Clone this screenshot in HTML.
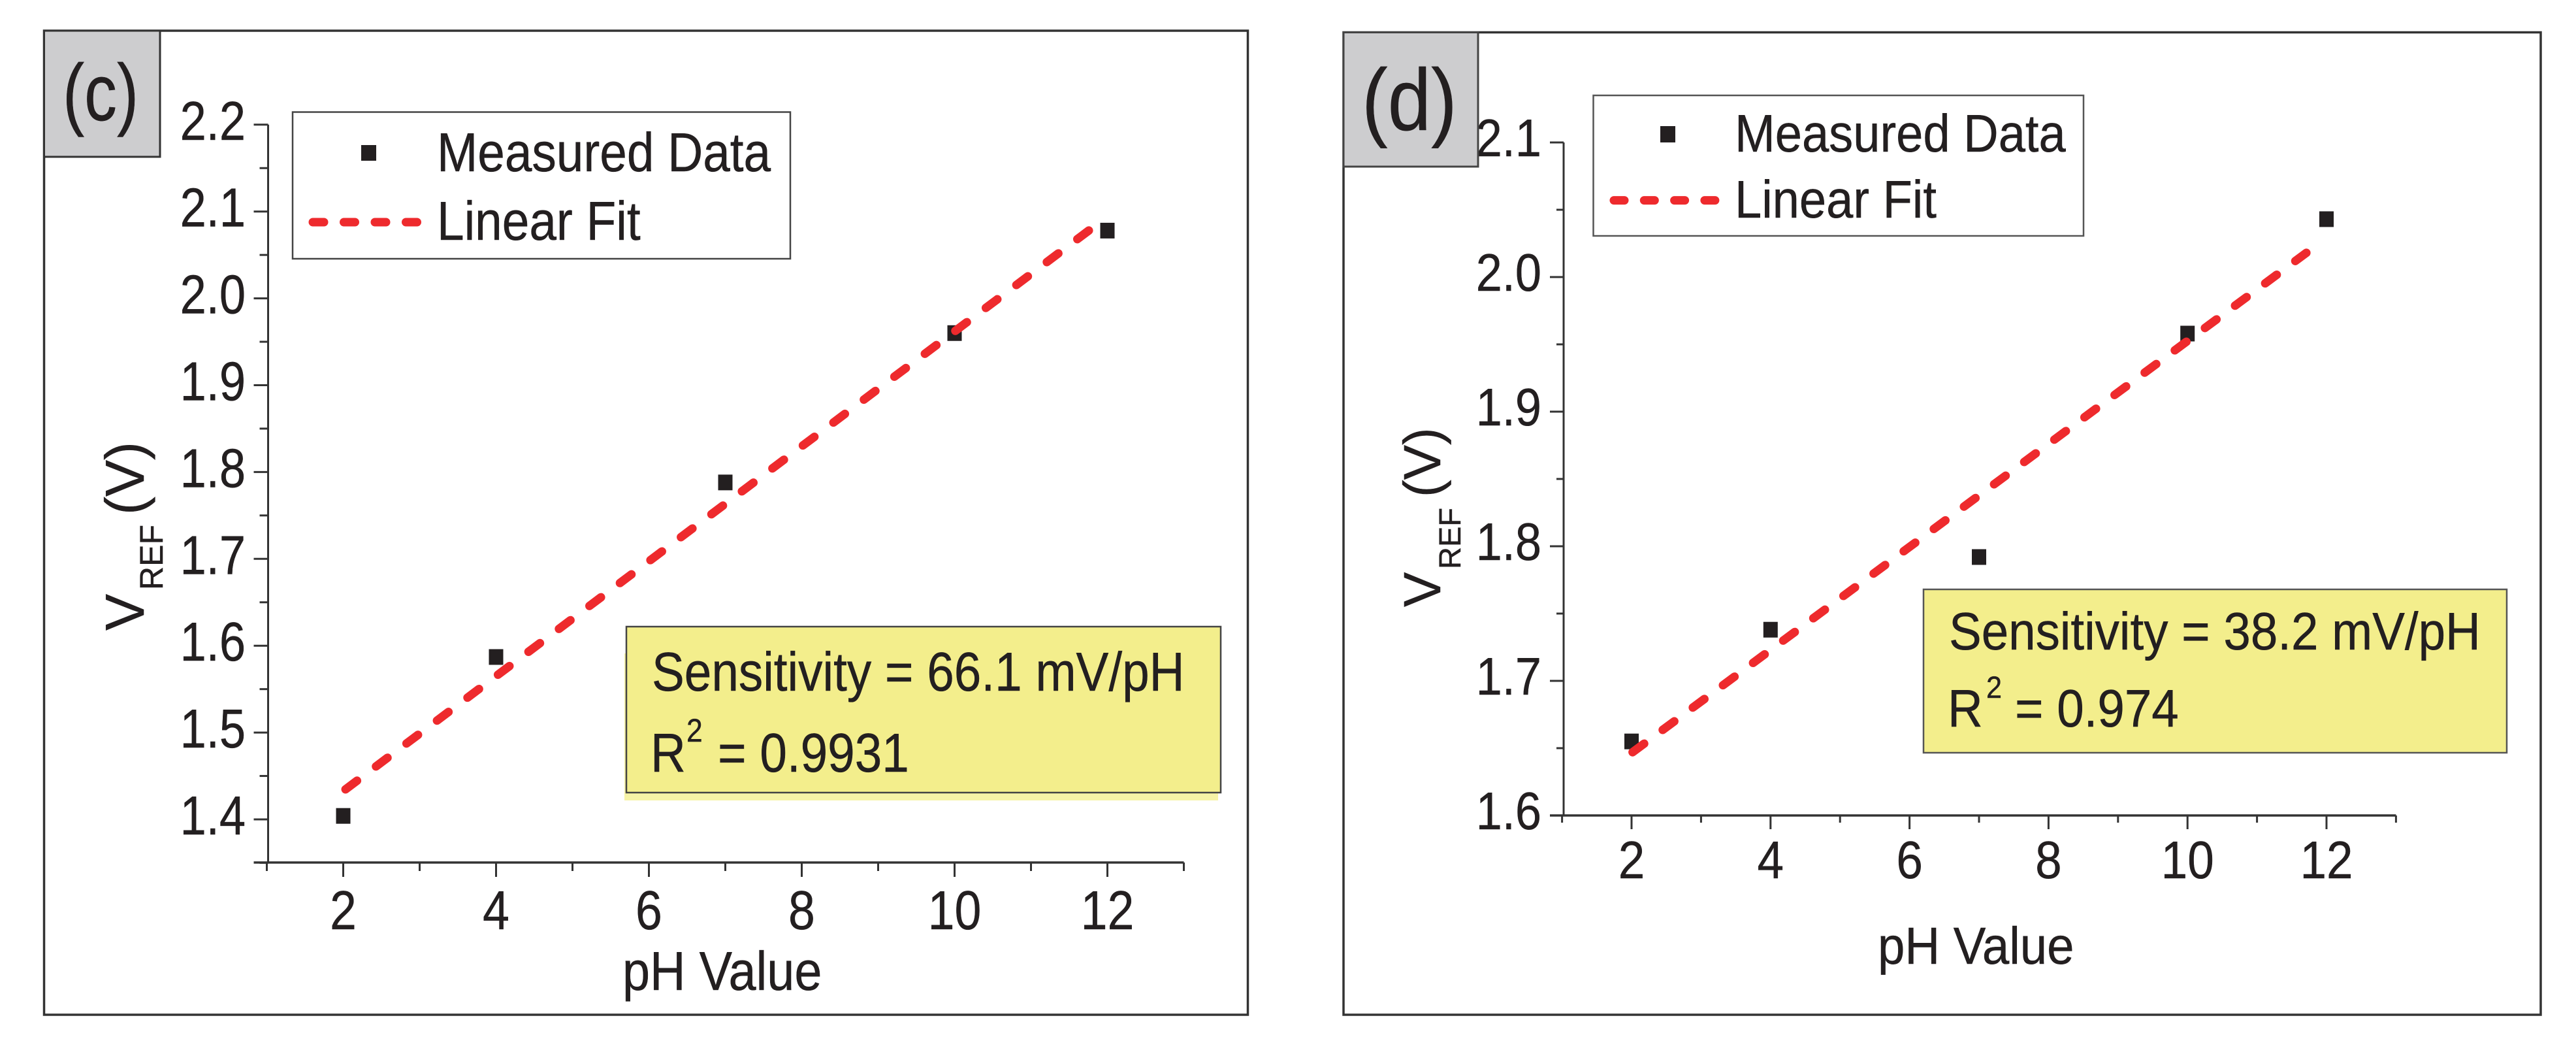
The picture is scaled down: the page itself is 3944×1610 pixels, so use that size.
<!DOCTYPE html>
<html lang="en">
<head>
<meta charset="utf-8">
<title>VREF versus pH value, panels c and d</title>
<style>
  html, body { margin: 0; padding: 0; background: #ffffff; }
  svg { display: block; }
  text { font-family: "Liberation Sans", Arial, sans-serif; fill: #231f20; text-rendering: geometricPrecision; stroke: #231f20; stroke-width: 0.5px; }
</style>
</head>
<body>
<svg id="figure" xmlns="http://www.w3.org/2000/svg" width="3944" height="1610" viewBox="0 0 3944 1610">
  <rect x="0" y="0" width="3944" height="1610" fill="#ffffff"/>

  <!-- Panel C -->
  <g id="panel-c">
    <rect x="67.5" y="47" width="1843" height="1506" fill="#ffffff" stroke="#333333" stroke-width="3.5"/>
    <g id="plot-c"></g>
    <g>
      <text transform="translate(220,965) rotate(-90)" font-size="84">V</text>
      <text transform="translate(249,903) rotate(-90)" font-size="50">REF</text>
      <text transform="translate(220,788) rotate(-90)" font-size="84">(V)</text>
    </g>
    <text transform="translate(953,1515) scale(0.9,1)" font-size="84">pH Value</text>
    <rect x="67.5" y="47" width="177.5" height="193" fill="#cdcdcf" stroke="#333333" stroke-width="3"/>
    <text transform="translate(96,184) scale(0.81,1)" font-size="123">(c)</text>
    <g>
      <rect x="448" y="171.5" width="762" height="224.5" fill="#ffffff" stroke="#444444" stroke-width="2.5"/>
      <rect x="553" y="222" width="23" height="24" fill="#231f20"/>
      <text transform="translate(669,262) scale(0.89,1)" font-size="84">Measured Data</text>
      <line x1="479" y1="340" x2="640" y2="340" stroke="#ee2a2d" stroke-width="13" stroke-linecap="round" stroke-dasharray="17 30.5"/>
      <text transform="translate(669,367) scale(0.89,1)" font-size="84">Linear Fit</text>
    </g>
    <g>
      <rect x="956" y="1000" width="909" height="225" fill="#f6f3a6"/>
      <rect x="959" y="959" width="910" height="254" fill="#f3ee8c" stroke="#444444" stroke-width="2.5"/>
      <text transform="translate(998,1057) scale(0.889,1)" font-size="84">Sensitivity = 66.1 mV/pH</text>
      <text transform="translate(996,1181) scale(0.889,1)" font-size="84">R</text>
      <text transform="translate(1051,1135) scale(0.889,1)" font-size="50">2</text>
      <text transform="translate(1099,1181) scale(0.889,1)" font-size="84">= 0.9931</text>
    </g>
  </g>

  <!-- Panel D -->
  <g id="panel-d">
    <rect x="2057" y="49.5" width="1833" height="1503.5" fill="#ffffff" stroke="#333333" stroke-width="3.5"/>
    <g id="plot-d"></g>
    <g>
      <text transform="translate(2205,929) rotate(-90)" font-size="80">V</text>
      <text transform="translate(2236,871) rotate(-90)" font-size="47">REF</text>
      <text transform="translate(2205,761) rotate(-90)" font-size="80">(V)</text>
    </g>
    <text transform="translate(2875,1475) scale(0.93,1)" font-size="80">pH Value</text>
    <rect x="2057" y="49.5" width="206" height="205.5" fill="#cdcdcf" stroke="#444444" stroke-width="3"/>
    <text transform="translate(2085,199) scale(0.89,1)" font-size="134">(d)</text>
    <g>
      <rect x="2439.5" y="146" width="750.5" height="215" fill="#ffffff" stroke="#555555" stroke-width="2.5"/>
      <rect x="2542" y="193" width="23" height="25" fill="#231f20"/>
      <text transform="translate(2656,232) scale(0.915,1)" font-size="81">Measured Data</text>
      <line x1="2471" y1="306.6" x2="2626" y2="306.6" stroke="#ee2a2d" stroke-width="13" stroke-linecap="round" stroke-dasharray="16 30.3"/>
      <text transform="translate(2656,333) scale(0.915,1)" font-size="81">Linear Fit</text>
    </g>
    <g>
      <rect x="2945" y="902" width="893" height="250" fill="#f3ee8c" stroke="#555555" stroke-width="2.5"/>
      <text transform="translate(2984,994) scale(0.92,1)" font-size="81">Sensitivity = 38.2 mV/pH</text>
      <text transform="translate(2982,1112) scale(0.92,1)" font-size="81">R</text>
      <text transform="translate(3041,1068) scale(0.92,1)" font-size="47">2</text>
      <text transform="translate(3085,1112) scale(0.92,1)" font-size="81">= 0.974</text>
    </g>
  </g>
</svg>

<script>
const phValues = [2, 4, 7, 10, 12];
const measuredC = [1.404, 1.587, 1.788, 1.960, 2.078];
const measuredD = [1.655, 1.738, 1.792, 1.958, 2.043];

const fitPhC = [2.03, 11.77];
const fitVrefC = [1.4346, 2.079];
const fitPhD = [2.015, 11.71];
const fitVrefD = [1.647, 2.018];

const xMajorTicks = [2, 4, 6, 8, 10, 12];
const xMinorTicks = [1, 3, 5, 7, 9, 11, 13];
const xTickLabels = ['2', '4', '6', '8', '10', '12'];

const yMajorTicksC = [1.4, 1.5, 1.6, 1.7, 1.8, 1.9, 2.0, 2.1, 2.2];
const yMinorTicksC = [1.35, 1.45, 1.55, 1.65, 1.75, 1.85, 1.95, 2.05, 2.15];
const yTickLabelsC = ['1.4', '1.5', '1.6', '1.7', '1.8', '1.9', '2.0', '2.1', '2.2'];

const yMajorTicksD = [1.6, 1.7, 1.8, 1.9, 2.0, 2.1];
const yMinorTicksD = [1.65, 1.75, 1.85, 1.95, 2.05];
const yTickLabelsD = ['1.6', '1.7', '1.8', '1.9', '2.0', '2.1'];

const SVG_NS = 'http://www.w3.org/2000/svg';

function make(parent, tag, attrs, content) {
  const el = document.createElementNS(SVG_NS, tag);
  Object.keys(attrs).forEach(function (k) { el.setAttribute(k, attrs[k]); });
  if (content !== undefined) el.textContent = content;
  parent.appendChild(el);
  return el;
}

function drawPanel(o) {
  const root = document.getElementById(o.rootId);
  const x = function (v) { return o.x0 + o.xUnit * (v - o.xRef); };
  const y = function (v) { return o.y0 - o.yUnit * (v - o.yRef); };
  const axisColor = '#333333';

  const yTop = Math.max.apply(null, o.yMajor);
  const yAxis = make(root, 'line', { x1: o.axisX, y1: y(yTop), x2: o.axisX, y2: o.axisY, stroke: axisColor, 'stroke-width': 3 });
  
  

  const xAxis = make(root, 'line', { x1: o.axisX - o.majorLen, y1: o.axisY, x2: x(13), y2: o.axisY, stroke: axisColor, 'stroke-width': 3.5 });
  
  

  o.yMajor.forEach(function (v, i) {
    const t = make(root, 'line', { x1: o.axisX - o.majorLen, y1: y(v), x2: o.axisX, y2: y(v), stroke: axisColor, 'stroke-width': 3 });
    
    
    const label = make(root, 'text', {
      transform: 'translate(' + o.yLabelX + ',' + (y(v) + o.yLabelDy) + ') scale(' + o.squeezeY + ',1)',
      'font-size': o.fontSize, 'text-anchor': 'end'
    }, o.yLabels[i]);
    
    
  });

  o.yMinor.forEach(function (v) {
    const t = make(root, 'line', { x1: o.axisX - o.minorLen, y1: y(v), x2: o.axisX, y2: y(v), stroke: axisColor, 'stroke-width': 3 });
    
    
  });

  xMajorTicks.forEach(function (v, i) {
    const t = make(root, 'line', { x1: x(v), y1: o.axisY, x2: x(v), y2: o.axisY + o.majorLen, stroke: axisColor, 'stroke-width': 3 });
    
    
    const label = make(root, 'text', {
      transform: 'translate(' + x(v) + ',' + o.xLabelY + ') scale(' + o.squeezeX + ',1)',
      'font-size': o.fontSize, 'text-anchor': 'middle'
    }, xTickLabels[i]);
    
    
  });

  xMinorTicks.forEach(function (v) {
    const t = make(root, 'line', { x1: x(v), y1: o.axisY, x2: x(v), y2: o.axisY + o.minorLen, stroke: axisColor, 'stroke-width': 3 });
    
    
  });

  phValues.forEach(function (ph, i) {
    const m = make(root, 'rect', { x: x(ph) - 11, y: y(o.measured[i]) - 12, width: 22, height: 24, fill: '#231f20' });
    
    
  });

  const fit = make(root, 'line', {
    x1: x(o.fitPh[0]), y1: y(o.fitVref[0]), x2: x(o.fitPh[1]), y2: y(o.fitVref[1]),
    stroke: '#ee2a2d', 'stroke-width': 13, 'stroke-linecap': 'round',
    'stroke-dasharray': '22 ' + o.dashGap
  });
  
  
}

drawPanel({
  key: 'c', rootId: 'plot-c',
  x0: 525.5, xRef: 2, xUnit: 117, y0: 1254, yRef: 1.4, yUnit: 1329,
  axisX: 410.5, axisY: 1320, majorLen: 22, minorLen: 13,
  yLabelX: 376, yLabelDy: 23, xLabelY: 1422, fontSize: 84, squeezeY: 0.86, squeezeX: 0.875,
  yMajor: yMajorTicksC, yMinor: yMinorTicksC, yLabels: yTickLabelsC,
  measured: measuredC, fitPh: fitPhC, fitVref: fitVrefC, dashGap: 36.4
});

drawPanel({
  key: 'd', rootId: 'plot-d',
  x0: 2498, xRef: 2, xUnit: 106.4, y0: 1248, yRef: 1.6, yUnit: 2060,
  axisX: 2394, axisY: 1248, majorLen: 21, minorLen: 11,
  yLabelX: 2360, yLabelDy: 21, xLabelY: 1344, fontSize: 81, squeezeY: 0.89, squeezeX: 0.9,
  yMajor: yMajorTicksD, yMinor: yMinorTicksD, yLabels: yTickLabelsD,
  measured: measuredD, fitPh: fitPhD, fitVref: fitVrefD, dashGap: 35.4
});
</script>
</body>
</html>
